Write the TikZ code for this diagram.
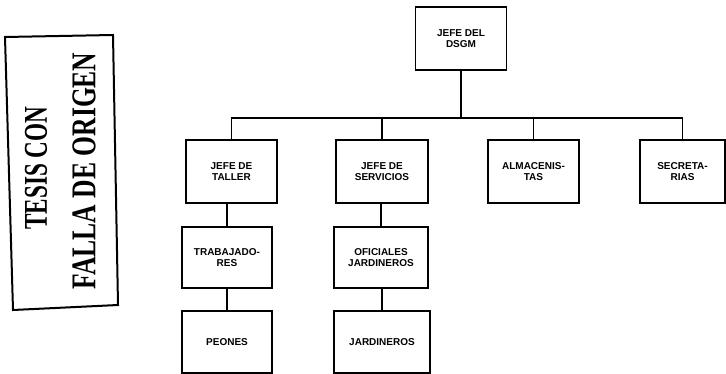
\documentclass[tikz,border=0pt]{standalone}
\usepackage{fontspec}
\setmainfont{Liberation Sans}
\newfontfamily\stampfont{Liberation Serif}
\newcommand{\boxline}{1.3pt}
\newcommand{\stampline}{2pt}
\tikzset{
  puesto/.style={draw, line width=\boxline, align=center, inner sep=0pt,
    minimum width=91pt, minimum height=63pt,
    font=\fontsize{10}{10.5}\selectfont\bfseries},
  liga/.style={draw, line width=\boxline}
}

\begin{document}
\begin{tikzpicture}[x=1pt,y=-1pt]
\useasboundingbox (0,0) rectangle (726,374);
% sello
\draw[line width=\stampline] (5,37) -- (113,35) -- (118,305) -- (13,310) -- cycle;
\node[rotate=90] (tesis) at (36,168) {\resizebox{123pt}{22pt}{\stampfont\bfseries TESIS CON}};
\node[rotate=90] (falla) at (84,171) {\resizebox{237pt}{23pt}{\stampfont\bfseries FALLA DE ORIGEN}};
% organigrama
\node[puesto] (jefe) at (461,38.5) {JEFE DEL\\DSGM};
\node[puesto] (taller) at (231.5,171.5) {JEFE DE\\TALLER};
\node[puesto, minimum width=92pt] (servicios) at (382,171.5) {JEFE DE\\SERVICIOS};
\node[puesto] (almacen) at (533.5,171.5) {ALMACENIS-\\TAS};
\node[puesto, minimum width=85pt] (secret) at (682.5,171.5) {SECRETA-\\RIAS};
\node[puesto, minimum width=90pt, minimum height=61pt] (trabaj) at (227,257.5) {TRABAJADO-\\RES};
\node[puesto, minimum width=94pt, minimum height=61pt] (oficiales) at (381,257.5) {OFICIALES\\JARDINEROS};
\node[puesto, minimum width=90pt, minimum height=62pt] (peones) at (227,342) {PEONES};
\node[puesto, minimum width=96pt, minimum height=62pt] (jardineros) at (382,342) {JARDINEROS};
\coordinate (bus) at (0,118);
\draw[liga] (jefe.south) -- (jefe.south |- bus);
\draw[liga] (taller.north) |- (secret.north |- bus) -- (secret.north);
\draw[liga] (servicios.north) -- (servicios.north |- bus);
\draw[liga] (almacen.north) -- (almacen.north |- bus);
\draw[liga] (trabaj.north) -- (trabaj.north |- taller.south);
\draw[liga] (peones.north) -- (trabaj.south);
\draw[liga] (oficiales.north) -- (oficiales.north |- servicios.south);
\draw[liga] (jardineros.north) -- (jardineros.north |- oficiales.south);
\end{tikzpicture}
\end{document}
